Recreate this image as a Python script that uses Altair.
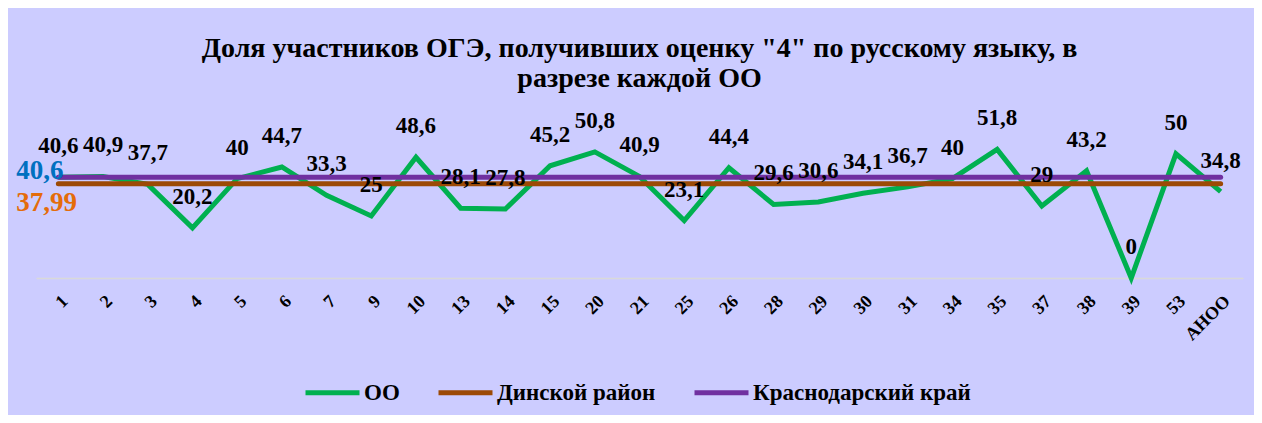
import altair as alt
import pandas as pd

categories = ["1", "2", "3", "4", "5", "6", "7", "9", "10", "13", "14", "15", "20", "21",
              "25", "26", "28", "29", "30", "31", "34", "35", "37", "38", "39", "53", "АНОО"]
oo_values = [40.6, 40.9, 37.7, 20.2, 40, 44.7, 33.3, 25, 48.6, 28.1, 27.8, 45.2, 50.8, 40.9,
             23.1, 44.4, 29.6, 30.6, 34.1, 36.7, 40, 51.8, 29, 43.2, 0, 50, 34.8]
series_names = ["ОО", "Динской район", "Краснодарский край"]
series_colors = ["#00B050", "#9C4A06", "#7030A0"]
district_value = 37.99
region_value = 40.6
district_label = "37,99"
region_label = "40,6"

FONT = "Liberation Serif"

oo_df = pd.DataFrame({"cat": categories, "value": oo_values, "series": series_names[0]})
oo_df["label"] = [("%g" % v).replace(".", ",") for v in oo_values]
district_df = pd.DataFrame({"cat": [categories[0], categories[-1]],
                            "value": [district_value, district_value],
                            "series": series_names[1]})
region_df = pd.DataFrame({"cat": [categories[0], categories[-1]],
                          "value": [region_value, region_value],
                          "series": series_names[2]})
left_df = pd.DataFrame({"cat": [categories[0], categories[0]],
                        "value": [region_value, district_value],
                        "label": [region_label, district_label],
                        "kind": ["region", "district"]})

x_enc = alt.X("cat:N", sort=categories,
              scale=alt.Scale(type="point", padding=0.5),
              axis=alt.Axis(title=None, labelAngle=-45, labelFont=FONT, labelFontWeight="bold",
                            labelFontSize=18, labelColor="black", labelPadding=14,
                            ticks=False, domainColor="#D9D9D9", domainWidth=1.5, grid=False))
y_enc = alt.Y("value:Q", scale=alt.Scale(domain=[0, 60], nice=False, zero=True), axis=None)
color_enc = alt.Color("series:N",
                      scale=alt.Scale(domain=series_names, range=series_colors),
                      sort=series_names,
                      legend=alt.Legend(title=None, orient="none", direction="horizontal",
                                        legendX=267, legendY=234,
                                        symbolType="stroke", symbolSize=2916,
                                        symbolStrokeWidth=5, labelFont=FONT,
                                        labelFontWeight="bold", labelFontSize=23,
                                        labelColor="black", labelOffset=2, labelLimit=400,
                                        columnPadding=28))

line_oo = alt.Chart(oo_df).mark_line(strokeWidth=5, strokeJoin="miter").encode(
    x=x_enc, y=y_enc, color=color_enc)
line_district = alt.Chart(district_df).mark_line(strokeWidth=5, strokeCap="round").encode(
    x=x_enc, y=y_enc, color=color_enc)
line_region = alt.Chart(region_df).mark_line(strokeWidth=5, strokeCap="round").encode(
    x=x_enc, y=y_enc, color=color_enc)

labels = alt.Chart(oo_df).mark_text(font=FONT, fontWeight="bold", fontSize=23,
                                    baseline="alphabetic", dy=-24, color="black").encode(
    x=x_enc, y=y_enc, text="label:N")

left_region = alt.Chart(left_df[left_df.kind == "region"]).mark_text(
    font=FONT, fontWeight="bold", fontSize=27, align="left", baseline="alphabetic",
    dx=-42, dy=2, color="#0070C0").encode(x=x_enc, y=y_enc, text="label:N")
left_district = alt.Chart(left_df[left_df.kind == "district"]).mark_text(
    font=FONT, fontWeight="bold", fontSize=27, align="left", baseline="alphabetic",
    dx=-42, dy=27, color="#E46C0A").encode(x=x_enc, y=y_enc, text="label:N")

chart = alt.layer(line_oo, line_district, line_region, labels, left_region, left_district).properties(
    width=1207, height=149,
    title=alt.Title(["Доля участников ОГЭ, получивших оценку \"4\" по русскому языку, в",
                     "разрезе каждой ОО"],
                    font=FONT, fontWeight="bold", fontSize=28, color="black",
                    anchor="middle", offset=14, lineHeight=30),
    autosize=alt.AutoSizeParams(type="none"),
    padding={"left": 28, "top": 121, "right": 11, "bottom": 137},
    background="#CCCCFF",
).configure_view(stroke=None)

chart.save("out.html", embed_options={"renderer": "svg", "actions": False})
